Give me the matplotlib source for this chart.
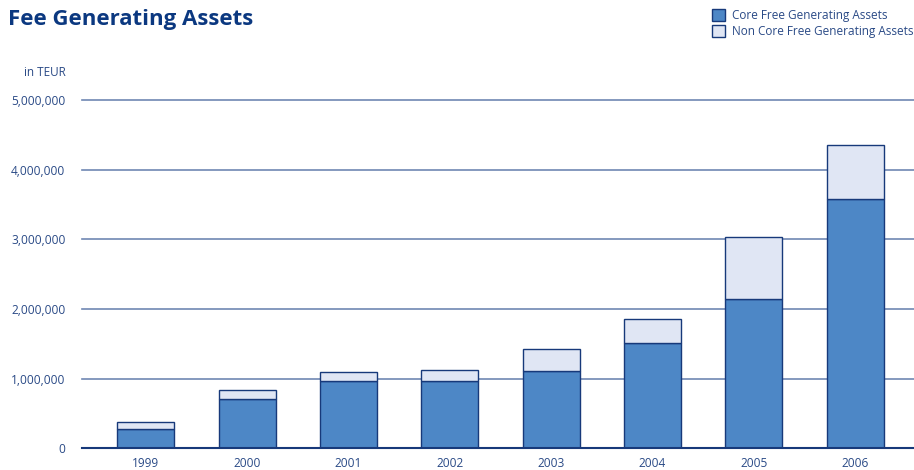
import numpy as np
import matplotlib.pyplot as plt
from matplotlib.ticker import FuncFormatter

years = ["1999", "2000", "2001", "2002", "2003", "2004", "2005", "2006"]
core = [273000, 712000, 961000, 970000, 1105000, 1506000, 2142000, 3572000]
total = [373000, 832000, 1090000, 1128000, 1429000, 1855000, 3036000, 4356000]
non_core = [t - c for t, c in zip(total, core)]

navy = "#17397a"
text_col = "#2a4a86"
core_col = "#4d87c6"
noncore_col = "#e0e6f4"
grid_col = "#6f87b3"

plt.rcParams['font.family'] = ['Open Sans', 'DejaVu Sans']

fig = plt.figure(figsize=(9.14, 4.70), dpi=100)
ax = fig.add_axes([82/914, 1-448.3/470, 832/914, (448.3-100)/470])

x = np.arange(len(years))
w = 0.563
b1 = ax.bar(x, core, w, color=core_col, edgecolor=navy, lw=1.0,
            label="Core Free Generating Assets", zorder=3)
b2 = ax.bar(x, non_core, w, bottom=core, color=noncore_col, edgecolor=navy, lw=1.0,
            label="Non Core Free Generating Assets", zorder=3)

ax.set_xlim(-0.63, 7.58)
ax.set_ylim(0, 5000000)
ax.set_yticks(np.arange(0, 5000001, 1000000))
ax.yaxis.set_major_formatter(FuncFormatter(lambda v, p: "{:,.0f}".format(v)))
ax.set_xticks(x)
ax.set_xticklabels(years)

for s in ax.spines.values():
    s.set_visible(False)
ax.axhline(0, color=navy, lw=1.5, zorder=4, clip_on=False)
for v in range(1000000, 5000001, 1000000):
    ax.axhline(v, color=grid_col, lw=1.2, zorder=1, clip_on=False)

ax.tick_params(axis='both', length=0, colors=text_col, labelsize=8.6)
ax.tick_params(axis='y', pad=12)
ax.tick_params(axis='x', pad=6)

fig.text(8/914, 1-19/470, "Fee Generating Assets", fontsize=16, fontweight='bold',
         color="#0b3880", va='center', ha='left')
fig.text(66/914, 1-72/470, "in TEUR", fontsize=8.5, color=text_col, va='center', ha='right')

leg = fig.legend(handles=[b1, b2], loc='upper left', bbox_to_anchor=(712/914, 1-9/470),
                 frameon=False, fontsize=8.5, handlelength=1.1, handleheight=1.1,
                 handletextpad=0.6, labelspacing=0.25, borderaxespad=0, borderpad=0)
for t in leg.get_texts():
    t.set_color(text_col)

fig.savefig("out.png", dpi=100)
